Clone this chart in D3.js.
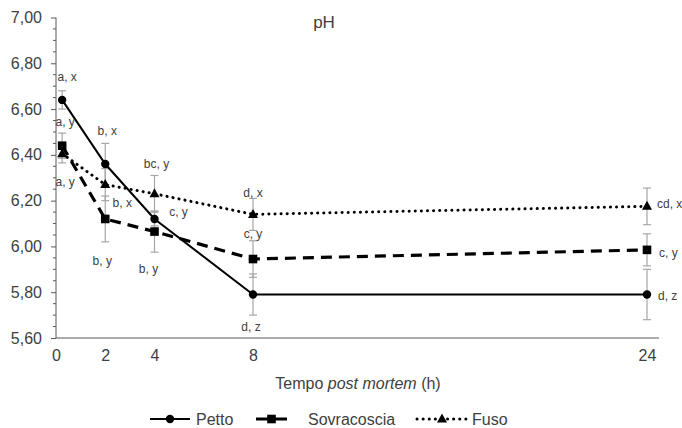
<!DOCTYPE html>
<html><head><meta charset="utf-8">
<script src="https://cdn.jsdelivr.net/npm/d3@7"></script>
<style>body{margin:0;background:#fff}svg{display:block;font-family:"Liberation Sans",Arial,sans-serif}</style>
</head><body><div id="chart"></div>
<script>
const times = [0.25, 2, 4, 8, 24];
const xTickValues = [0, 2, 4, 8, 24];
const yTickValues = [5.6, 5.8, 6.0, 6.2, 6.4, 6.6, 6.8, 7.0];
const seriesNames = ["Petto", "Sovracoscia", "Fuso"];
const pettoValues = [6.64, 6.36, 6.12, 5.79, 5.79];
const pettoErrors = [0.04, 0.09, 0.03, 0.09, 0.11];
const pettoLabels = ["a, x", "b, x", "c, y", "d, z", "d, z"];
const sovraValues = [6.44, 6.12, 6.065, 5.945, 5.985];
const sovraErrors = [0.055, 0.10, 0.09, 0.08, 0.07];
const sovraLabels = ["a, y", "b, y", "b, y", "c, y", "c, y"];
const fusoValues = [6.405, 6.27, 6.23, 6.14, 6.175];
const fusoErrors = [0.04, 0.07, 0.08, 0.07, 0.08];
const fusoLabels = ["a, y", "b, x", "bc, y", "d, x", "cd, x"];

const W = 682, H = 428;
const svg = d3.select("#chart").append("svg").attr("width", W).attr("height", H);
const x = d3.scaleLinear().domain([0, 24]).range([56, 647]);
const y = d3.scaleLinear().domain([5.6, 7.0]).range([338, 17.5]);
const txt = "#404040", axc = "#595959", errc = "#a6a6a6";

// title
svg.append("text").attr("x", 324).attr("y", 28).attr("text-anchor", "middle")
  .attr("font-size", 17).attr("fill", txt).text("pH");

// y axis
const yAxis = d3.axisLeft(y).tickValues(yTickValues).tickSize(5).tickPadding(9)
  .tickFormat(d => d3.format(".2f")(d).replace(".", ","));
const gy = svg.append("g").attr("transform", "translate(56,0)").call(yAxis);
gy.select(".domain").attr("stroke", axc).attr("d", `M0,${y(7.0)}V${y(5.6)}`);
gy.selectAll(".tick line").attr("stroke", axc);
gy.selectAll(".tick text").attr("font-size", 16).attr("fill", txt).attr("font-family", "Liberation Sans, Arial, sans-serif");
const minor = d3.range(5.65, 7.0, 0.05).filter(v => Math.abs(Math.round(v * 5) - v * 5) > 0.01);
gy.selectAll(".minor").data(minor).enter().append("line").attr("class", "minor")
  .attr("x1", -3).attr("x2", 0).attr("y1", d => y(d)).attr("y2", d => y(d)).attr("stroke", axc);

// x axis
const xAxis = d3.axisBottom(x).tickValues(xTickValues).tickSize(0).tickPadding(12).tickFormat(d3.format("d"));
const gx = svg.append("g").attr("transform", `translate(0,${y(5.6)})`).call(xAxis);
gx.select(".domain").attr("stroke", axc).attr("d", `M56,0H659`);
gx.selectAll(".tick text").attr("font-size", 16).attr("fill", txt).attr("font-family", "Liberation Sans, Arial, sans-serif");

// axis title
const at = svg.append("text").attr("x", 358).attr("y", 389).attr("text-anchor", "middle")
  .attr("font-size", 16).attr("fill", txt);
at.append("tspan").text("Tempo ");
at.append("tspan").attr("font-style", "italic").text("post mortem");
at.append("tspan").text(" (h)");

const series = [
  {name: seriesNames[0], vals: pettoValues, errs: pettoErrors, labels: pettoLabels, dash: null, width: 2, marker: "circle"},
  {name: seriesNames[1], vals: sovraValues, errs: sovraErrors, labels: sovraLabels, dash: "11,7", width: 3.2, marker: "square"},
  {name: seriesNames[2], vals: fusoValues, errs: fusoErrors, labels: fusoLabels, dash: "0.1,6", width: 3, marker: "triangle"}
];
const labelOffsets = [
  [[5, -23, "middle"], [2, -33, "middle"], [24, -7, "middle"], [-2, 32, "middle"], [11, 1, "start"]],
  [[3, -24, "middle"], [-3, 42, "middle"], [-6, 37, "middle"], [0, -25, "middle"], [12, 3, "start"]],
  [[3, 28, "middle"], [17, 18, "middle"], [2, -30, "middle"], [0, -22, "middle"], [10, -3, "start"]]
];

// error bars
series.forEach(s => {
  const g = svg.append("g");
  s.vals.forEach((v, i) => {
    const cx = x(times[i]);
    g.append("line").attr("x1", cx).attr("x2", cx).attr("y1", y(v - s.errs[i])).attr("y2", y(v + s.errs[i])).attr("stroke", errc).attr("stroke-width", 1.2);
    [v - s.errs[i], v + s.errs[i]].forEach(e => g.append("line").attr("x1", cx - 4).attr("x2", cx + 4).attr("y1", y(e)).attr("y2", y(e)).attr("stroke", errc).attr("stroke-width", 1.2));
  });
});

function marker(g, type, cx, cy) {
  if (type === "circle") g.append("circle").attr("cx", cx).attr("cy", cy).attr("r", 4.2).attr("fill", "#000");
  else if (type === "square") g.append("rect").attr("x", cx - 4.3).attr("y", cy - 4.3).attr("width", 8.6).attr("height", 8.6).attr("fill", "#000");
  else g.append("path").attr("d", `M${cx},${cy - 5.5}L${cx + 5},${cy + 3.5}L${cx - 5},${cy + 3.5}Z`).attr("fill", "#000");
}

const line = d3.line().x((d, i) => x(times[i])).y(d => y(d));
series.forEach((s, si) => {
  svg.append("path").datum(s.vals).attr("d", line).attr("fill", "none").attr("stroke", "#000")
    .attr("stroke-width", s.width).attr("stroke-dasharray", s.dash).attr("stroke-linecap", s.marker === "triangle" ? "round" : "butt");
});
series.forEach((s, si) => {
  const g = svg.append("g");
  s.vals.forEach((v, i) => marker(g, s.marker, x(times[i]), y(v)));
  s.labels.forEach((l, i) => {
    const o = labelOffsets[si][i];
    svg.append("text").attr("x", x(times[i]) + o[0]).attr("y", y(s.vals[i]) + o[1]).attr("dy", "0.35em")
      .attr("text-anchor", o[2]).attr("font-size", 12).attr("fill", txt).text(l);
  });
});

// legend
const legendX = [[150, 190, 196], [256, 287, 308], [417, 467, 472]];
series.forEach((s, i) => {
  const g = svg.append("g");
  const [x1, x2, tx] = legendX[i];
  const ly = 419;
  g.append("line").attr("x1", x1).attr("x2", x2).attr("y1", ly).attr("y2", ly).attr("stroke", "#000")
    .attr("stroke-width", s.width).attr("stroke-dasharray", s.marker === "square" ? "13,5" : s.dash).attr("stroke-linecap", s.marker === "triangle" ? "round" : "butt");
  marker(g, s.marker, (x1 + x2) / 2, ly);
  g.append("text").attr("x", tx).attr("y", ly).attr("dy", "0.35em").attr("font-size", 16).attr("fill", txt).text(s.name);
});
</script></body></html>
